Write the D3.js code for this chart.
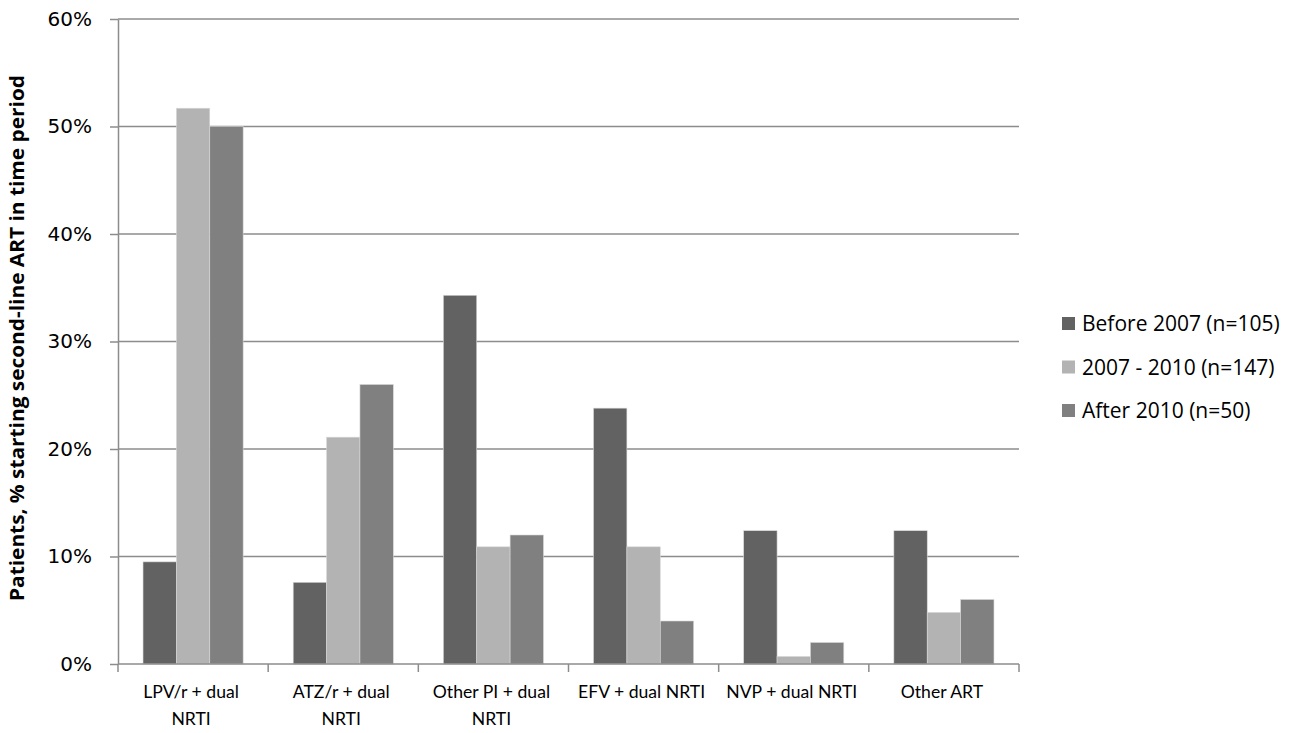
<!DOCTYPE html>
<html><head><meta charset="utf-8">
<script src="https://cdn.jsdelivr.net/npm/d3@7/dist/d3.min.js"></script>
<style>body{margin:0;background:#fff}svg{display:block}</style>
</head><body>
<svg id="c" width="1299" height="733"></svg>
<script>
const categories = [["LPV/r + dual","NRTI"],["ATZ/r + dual","NRTI"],["Other PI + dual","NRTI"],["EFV + dual NRTI"],["NVP + dual NRTI"],["Other ART"]];
const seriesNames = ["Before 2007 (n=105)","2007 - 2010 (n=147)","After 2010 (n=50)"];
const before2007 = [9.5, 7.6, 34.3, 23.8, 12.4, 12.4];
const y2007_2010 = [51.7, 21.1, 10.9, 10.9, 0.7, 4.8];
const after2010 = [50, 26, 12, 4, 2, 6];
const yTicks = [0,10,20,30,40,50,60];
const colors = ["#626262","#b3b3b3","#808080"];
const series = [before2007, y2007_2010, after2010];

const svg = d3.select("#c");
const L=118,R=1019,T=19,B=664;
const x0 = d3.scaleBand().domain(d3.range(categories.length)).range([L,R]).paddingInner(1/3).paddingOuter(1/6);
const x1 = d3.scaleBand().domain(d3.range(series.length)).range([0,x0.bandwidth()]);
const y = d3.scaleLinear().domain([0,60]).range([B,T]);
const gridC="#8c8c8c";

svg.append("g").selectAll("line").data(yTicks.slice(1)).join("line")
  .attr("x1",L).attr("x2",R).attr("y1",d=>y(d)).attr("y2",d=>y(d))
  .attr("stroke",gridC).attr("stroke-width",1.5);

series.forEach((s,si)=>{
  svg.append("g").selectAll("rect").data(s).join("rect")
    .attr("x",(d,i)=>x0(i)+x1(si)).attr("width",x1.bandwidth())
    .attr("y",d=>y(d)).attr("height",d=>y(0)-y(d))
    .attr("fill",colors[si]).attr("stroke","#d8d8d8").attr("stroke-width",0.6);
});

const ya = svg.append("g").attr("transform",`translate(${L},0)`)
  .call(d3.axisLeft(y).tickValues(yTicks).tickFormat(d=>d+"%").tickSize(8).tickSizeOuter(0));
ya.select(".domain").attr("stroke",gridC).attr("stroke-width",1.5);
ya.selectAll(".tick line").attr("stroke",gridC).attr("stroke-width",1.5);
ya.selectAll(".tick text").attr("font-family","DejaVu Sans").attr("font-size",20).attr("fill","#000").attr("x",-26);

const step = x0.step();
const bounds = d3.range(categories.length+1).map(i=>L+i*step);
svg.append("line").attr("x1",L).attr("x2",R).attr("y1",B).attr("y2",B).attr("stroke",gridC).attr("stroke-width",1.5);
svg.append("g").selectAll("line").data(bounds).join("line")
  .attr("x1",d=>d).attr("x2",d=>d).attr("y1",B).attr("y2",B+8).attr("stroke",gridC).attr("stroke-width",1.5);
const xl = svg.append("g").selectAll("text").data(categories).join("text")
  .attr("font-family","Lato").attr("font-size",17.6).attr("text-anchor","middle")
  .attr("transform",(d,i)=>`translate(${x0(i)+x0.bandwidth()/2-2},0)`);
xl.each(function(d){
  d3.select(this).selectAll("tspan").data(d).join("tspan").attr("x",0).attr("y",(t,j)=>698+j*27).text(t=>t);
});

svg.append("text").attr("transform","translate(24,338) rotate(-90)")
  .attr("text-anchor","middle").attr("font-family","Open Sans").attr("font-weight","bold").attr("font-size",19)
  .attr("textLength",526).attr("lengthAdjust","spacingAndGlyphs")
  .text("Patients, % starting second-line ART in time period");

const lg = svg.append("g").selectAll("g").data(seriesNames).join("g")
  .attr("transform",(d,i)=>`translate(1062,${331+i*43.5})`);
lg.append("rect").attr("x",0).attr("y",-14).attr("width",13).attr("height",13).attr("fill",(d,i)=>colors[i]);
lg.append("text").attr("x",20).attr("y",0).attr("font-family","Open Sans").attr("font-size",21).text(d=>d);
</script>
</body></html>
